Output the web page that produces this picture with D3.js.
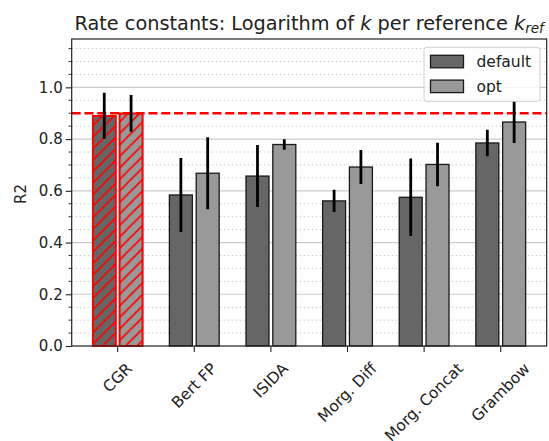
<!DOCTYPE html>
<html>
<head>
<meta charset="utf-8">
<script src="https://cdn.jsdelivr.net/npm/d3@7"></script>
<style>
  html, body { margin: 0; padding: 0; background: #fff; }
  svg { display: block; font-family: "DejaVu Sans", sans-serif; }
</style>
</head>
<body>
<svg id="chart" width="549" height="441"></svg>
<script>
// Featurization methods compared on the x axis
const categories = ["CGR", "Bert FP", "ISIDA", "Morg. Diff", "Morg. Concat", "Grambow"];
const seriesNames = ["default", "opt"];

// Mean R2 and its spread for each featurization
const defaultMean = [0.890, 0.584, 0.657, 0.561, 0.575, 0.785];
const defaultErr  = [0.089, 0.143, 0.120, 0.043, 0.150, 0.051];
const optMean     = [0.899, 0.668, 0.779, 0.692, 0.702, 0.866];
const optErr      = [0.071, 0.139, 0.020, 0.066, 0.084, 0.081];

// Reference level marked by the dashed line
const referenceR2 = 0.9;

const yTickValues = [0.0, 0.2, 0.4, 0.6, 0.8, 1.0];
const yMinorStep = 0.05;
const yMax = 1.187;

const seriesColors = ["#666666", "#999999"];
const highlightColor = "#ff0000";
const highlighted = "CGR";

(function draw() {
const svg = d3.select("#chart");
const plotLeft = 71.7, plotRight = 546.7, plotTop = 39, plotBottom = 346;

const x = d3.scaleLinear().domain([-0.6, categories.length - 0.4]).range([plotLeft, plotRight]);
const y = d3.scaleLinear().domain([0, yMax]).range([plotBottom, plotTop]);
const unit = x(1) - x(0);
const barWidth = 0.3 * unit;
const offsets = [-0.175, 0.175];

// Hatch pattern for the highlighted group
const defs = svg.append("defs");
const hs = 11.5;
const pat = defs.append("pattern")
  .attr("id", "hatch")
  .attr("patternUnits", "userSpaceOnUse")
  .attr("width", hs).attr("height", hs);
pat.append("path")
  .attr("d", `M0,${hs} L${hs},0 M${-hs/2},${hs/2} L${hs/2},${-hs/2} M${hs/2},${hs*1.5} L${hs*1.5},${hs/2}`)
  .attr("stroke", highlightColor).attr("stroke-width", 1.6).attr("fill", "none");

const clip = defs.append("clipPath").attr("id", "plotclip");
clip.append("rect").attr("x", plotLeft).attr("y", plotTop)
  .attr("width", plotRight - plotLeft).attr("height", plotBottom - plotTop);

// Grid: dotted minor lines and solid major lines
const minorVals = d3.range(0, yMax, yMinorStep).map(v => +v.toFixed(2));
const majorVals = d3.range(0, yMax, 0.2).map(v => +v.toFixed(2));
const isMajor = v => majorVals.some(m => Math.abs(m - v) < 1e-6);

const grid = svg.append("g");
grid.selectAll("line.minor")
  .data(minorVals.filter(v => !isMajor(v)))
  .join("line")
  .attr("x1", plotLeft).attr("x2", plotRight)
  .attr("y1", d => y(d)).attr("y2", d => y(d))
  .attr("stroke", "#c8c8c8").attr("stroke-width", 1)
  .attr("stroke-dasharray", "1.5,2.5");
grid.selectAll("line.major")
  .data(majorVals.filter(v => v > 0))
  .join("line")
  .attr("x1", plotLeft).attr("x2", plotRight)
  .attr("y1", d => y(d)).attr("y2", d => y(d))
  .attr("stroke", "#cccccc").attr("stroke-width", 1.2);

// Bars
const means = [defaultMean, optMean];
const errs = [defaultErr, optErr];
const barData = [];
categories.forEach((c, i) => {
  seriesNames.forEach((s, k) => {
    barData.push({ cat: c, i, k, mean: means[k][i], err: errs[k][i] });
  });
});

const bars = svg.append("g");
bars.selectAll("rect.bar")
  .data(barData)
  .join("rect")
  .attr("x", d => x(d.i + offsets[d.k]) - barWidth / 2)
  .attr("y", d => y(d.mean))
  .attr("width", barWidth)
  .attr("height", d => y(0) - y(d.mean))
  .attr("fill", d => seriesColors[d.k])
  .attr("stroke", d => d.cat === highlighted ? highlightColor : "#1a1a1a")
  .attr("stroke-width", d => d.cat === highlighted ? 1.5 : 1.3);

bars.selectAll("rect.hatch")
  .data(barData.filter(d => d.cat === highlighted))
  .join("rect")
  .attr("x", d => x(d.i + offsets[d.k]) - barWidth / 2)
  .attr("y", d => y(d.mean))
  .attr("width", barWidth)
  .attr("height", d => y(0) - y(d.mean))
  .attr("fill", "url(#hatch)")
  .attr("stroke", highlightColor)
  .attr("stroke-width", 1.7);

// Reference level
svg.append("line")
  .attr("x1", plotLeft).attr("x2", plotRight)
  .attr("y1", y(referenceR2)).attr("y2", y(referenceR2))
  .attr("stroke", highlightColor).attr("stroke-width", 2.6)
  .attr("stroke-dasharray", "9,3.8");

// Error bars
svg.append("g").attr("clip-path", "url(#plotclip)")
  .selectAll("line")
  .data(barData)
  .join("line")
  .attr("x1", d => x(d.i + offsets[d.k])).attr("x2", d => x(d.i + offsets[d.k]))
  .attr("y1", d => y(d.mean - d.err)).attr("y2", d => y(d.mean + d.err))
  .attr("stroke", "#000").attr("stroke-width", 2.8);

// Spines
svg.append("rect")
  .attr("x", plotLeft).attr("y", plotTop)
  .attr("width", plotRight - plotLeft).attr("height", plotBottom - plotTop)
  .attr("fill", "none").attr("stroke", "#222").attr("stroke-width", 1.2);

// Y axis with major and minor ticks
const yAxis = d3.axisLeft(y).tickValues(yTickValues).tickFormat(d3.format(".1f"))
  .tickSize(6).tickPadding(3);
const gy = svg.append("g").attr("transform", `translate(${plotLeft},0)`).call(yAxis);
gy.select(".domain").remove();
gy.selectAll(".tick line").attr("stroke", "#222").attr("stroke-width", 1.1);
gy.selectAll(".tick text").attr("font-size", 15).attr("fill", "#222")
  .attr("font-family", "DejaVu Sans");

svg.append("g").selectAll("line")
  .data(minorVals.filter(v => !isMajor(v)))
  .join("line")
  .attr("x1", plotLeft - 3.2).attr("x2", plotLeft)
  .attr("y1", d => y(d)).attr("y2", d => y(d))
  .attr("stroke", "#222").attr("stroke-width", 0.9);

// X axis ticks and rotated labels
const gx = svg.append("g");
gx.selectAll("line")
  .data(categories)
  .join("line")
  .attr("x1", (d, i) => x(i)).attr("x2", (d, i) => x(i))
  .attr("y1", plotBottom).attr("y2", plotBottom + 6)
  .attr("stroke", "#222").attr("stroke-width", 1.1);

const labelTop = 360.5;
const labelSize = 15.5;
gx.selectAll("text")
  .data(categories)
  .join("text")
  .attr("font-size", labelSize)
  .attr("fill", "#222")
  .attr("text-anchor", "middle")
  .attr("dominant-baseline", "central")
  .text(d => d)
  .each(function (d, i) {
    const w = this.getComputedTextLength();
    const h = labelSize;
    const cy = labelTop + (w + h) * Math.SQRT1_2 / 2;
    d3.select(this).attr("transform", `translate(${x(i)},${cy}) rotate(-45)`);
  });

// Y axis label
svg.append("text")
  .attr("transform", `translate(21,194) rotate(-90)`)
  .attr("text-anchor", "middle")
  .attr("dominant-baseline", "central")
  .attr("font-size", 15).attr("fill", "#222")
  .text("R2");

// Title
const title = svg.append("text")
  .attr("x", (plotLeft + plotRight) / 2).attr("y", 30)
  .attr("text-anchor", "middle")
  .attr("font-size", 19.3).attr("fill", "#222");
title.append("tspan").text("Rate constants: Logarithm of ");
title.append("tspan").attr("font-style", "italic").text("k");
title.append("tspan").text(" per reference ");
title.append("tspan").attr("font-style", "italic").text("k");
title.append("tspan").attr("font-style", "italic").attr("font-size", 13.6).attr("dy", 3).text("ref");

// Legend
const lg = svg.append("g").attr("transform", "translate(424,47.3)");
lg.append("rect")
  .attr("width", 116).attr("height", 54).attr("rx", 3)
  .attr("fill", "#fff").attr("fill-opacity", 0.8)
  .attr("stroke", "#d0d0d0").attr("stroke-width", 1);
seriesNames.forEach((s, k) => {
  lg.append("rect")
    .attr("x", 6.5).attr("y", 8 + k * 24.8)
    .attr("width", 33).attr("height", 12.5)
    .attr("fill", seriesColors[k]).attr("stroke", "#1a1a1a").attr("stroke-width", 1.3);
  lg.append("text")
    .attr("x", 52.5).attr("y", 19.5 + k * 24.8)
    .attr("font-size", 15.5).attr("fill", "#222")
    .text(s);
});
})();
</script>
</body>
</html>
